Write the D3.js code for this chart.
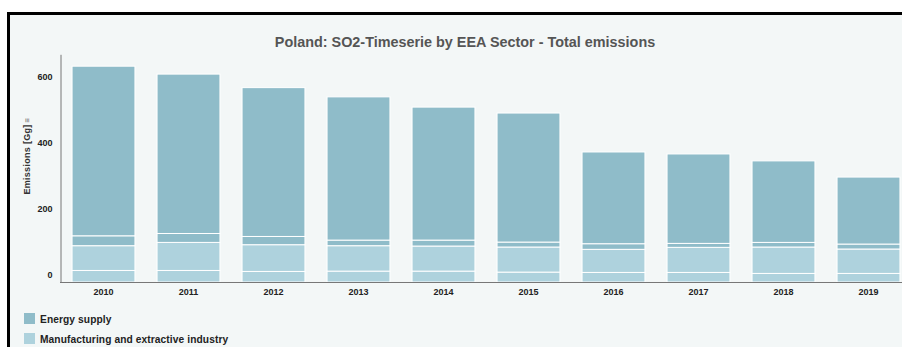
<!DOCTYPE html>
<html>
<head>
<meta charset="utf-8">
<script src="https://cdn.jsdelivr.net/npm/d3@7"></script>
<style>
  html, body { margin: 0; padding: 0; background: #ffffff; }
  svg { display: block; font-family: "Liberation Sans", Arial, sans-serif; }
</style>
</head>
<body>
<svg id="chart" width="902" height="347"></svg>
<script>
// ---- data (Gg) ----
const years = ["2010","2011","2012","2013","2014","2015","2016","2017","2018","2019"];
const energySupply  = [514, 483, 451, 434, 403, 391, 278, 271, 247, 203];
const sectorDark2   = [ 30,  27,  25,  17,  18,  15,  17,  12,  14,  15];
const manufacturing = [ 75,  85,  81,  77,  76,  76,  70,  76,  80,  74];
const sectorLight2  = [ 35,  35,  32,  33,  33,  30,  29,  29,  26,  26];
const yTicks = [0, 200, 400, 600];
const legendLabels = ["Energy supply", "Manufacturing and extractive industry"];
const titleText = "Poland: SO2-Timeserie by EEA Sector - Total emissions";
const yLabel = "Emissions [Gg]";

const darkCol = "#8fbcc9", lightCol = "#aed2dd";
// stack order from bottom to top
const series = [
  { key: "light2", values: sectorLight2, color: lightCol },
  { key: "manufacturing", values: manufacturing, color: lightCol },
  { key: "dark2", values: sectorDark2, color: darkCol },
  { key: "energy", values: energySupply, color: darkCol }
];
const rows = years.map((yr, i) => {
  const r = { year: yr };
  series.forEach(s => r[s.key] = s.values[i]);
  return r;
});

const svg = d3.select("#chart");
const W = 902, H = 347;

// frame & background
svg.append("rect").attr("x", 8).attr("y", 13).attr("width", W - 8).attr("height", H - 13)
  .attr("fill", "#f3f7f7");
svg.append("line").attr("x1", 7).attr("x2", W).attr("y1", 13.5).attr("y2", 13.5)
  .attr("stroke", "#000").attr("stroke-width", 3);
svg.append("line").attr("x1", 8.5).attr("x2", 8.5).attr("y1", 12).attr("y2", H)
  .attr("stroke", "#000").attr("stroke-width", 3);

// scales
const x = d3.scaleBand().domain(years).range([61, 911]).paddingInner(0.26).paddingOuter(0.13);
const y = d3.scaleLinear().domain([0, 690]).range([282, 282 - 690 * 0.33]);

// bars
const stack = d3.stack().keys(series.map(s => s.key));
const stacked = stack(rows);
svg.append("g").selectAll("g").data(stacked).join("g")
  .attr("fill", (d, i) => series[i].color)
  .selectAll("rect").data(d => d).join("rect")
  .attr("x", d => x(d.data.year))
  .attr("width", x.bandwidth())
  .attr("y", d => y(d[1]))
  .attr("height", d => y(d[0]) - y(d[1]))
  .attr("stroke", "#ffffff").attr("stroke-width", 1);

// y axis
const yAxis = svg.append("g").attr("transform", "translate(60.5,0)")
  .call(d3.axisLeft(y).tickValues(yTicks).tickFormat(d3.format("d")).tickSize(0).tickSizeOuter(0).tickPadding(8));
yAxis.select(".domain").attr("stroke", "#777");
yAxis.selectAll("text").attr("dy", "-0.45em").attr("font-size", 9).attr("font-weight", "bold")
  .attr("fill", "#222").attr("font-family", "Liberation Sans, Arial, sans-serif");

// x axis
const xAxis = svg.append("g").attr("transform", "translate(0,282.5)")
  .call(d3.axisBottom(x).tickSize(0).tickSizeOuter(0).tickPadding(6));
xAxis.select(".domain").attr("stroke", "#777").attr("d", "M60,0H902");
xAxis.selectAll("text").attr("font-size", 9).attr("font-weight", "bold").attr("fill", "#222")
  .attr("font-family", "Liberation Sans, Arial, sans-serif");

// title
svg.append("text").attr("x", 465).attr("y", 47).attr("text-anchor", "middle")
  .attr("font-size", 14.4).attr("font-weight", "bold").attr("fill", "#555")
  .text(titleText);

// y label
const yl = svg.append("text").attr("transform", "translate(30,156) rotate(-90)")
  .attr("text-anchor", "middle").attr("font-size", 9).attr("font-weight", "bold").attr("fill", "#333")
  .attr("letter-spacing", "0.3px");
yl.append("tspan").text(yLabel);
yl.append("tspan").attr("dx", 2).attr("font-size", 8).attr("fill", "#666").text("≡");

// legend
const lg = svg.append("g").selectAll("g").data(legendLabels).join("g")
  .attr("transform", (d, i) => `translate(24,${313 + i * 20})`);
lg.append("rect").attr("width", 11).attr("height", 11)
  .attr("fill", (d, i) => i === 0 ? darkCol : lightCol);
lg.append("text").attr("x", 16).attr("y", 9.5).attr("font-size", 10.2).attr("font-weight", "bold")
  .attr("letter-spacing", "0.1px").attr("fill", "#222").text(d => d);
</script>
</body>
</html>
